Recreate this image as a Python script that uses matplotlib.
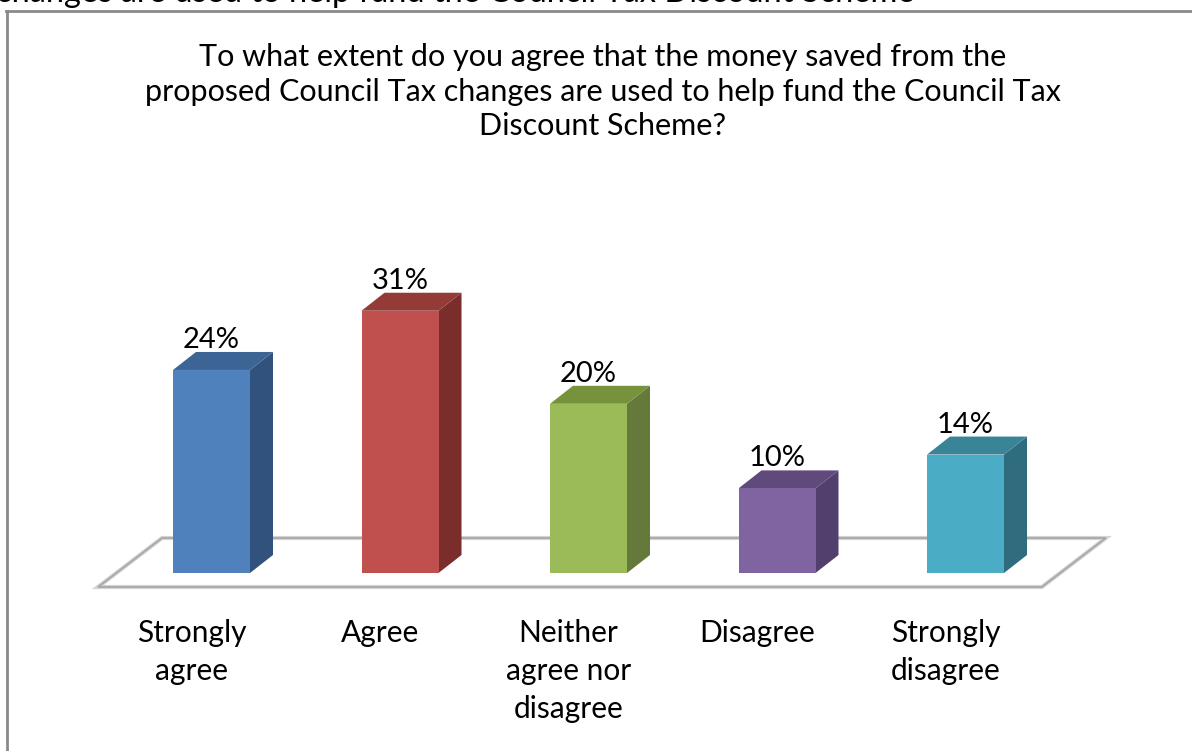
import matplotlib.pyplot as plt
from matplotlib.patches import Polygon

# survey responses
categories = ['Strongly\nagree', 'Agree', 'Neither\nagree nor\ndisagree', 'Disagree', 'Strongly\ndisagree']
values = [24, 31, 20, 10, 14]
labels = ['24%', '31%', '20%', '10%', '14%']

title_lines = ['To what extent do you agree that the money saved from the',
               'proposed Council Tax changes are used to help fund the Council Tax',
               'Discount Scheme?']

# front / side / top shades for each bar
front_cols = ['#4F81BD', '#C0504D', '#9BBB59', '#8064A2', '#4BACC6']
side_cols = ['#31527C', '#7B2D2B', '#65793A', '#533F6E', '#2F6C7E']
top_cols = ['#3C6494', '#943B38', '#76923C', '#604A7B', '#3A8498']

plt.rcParams['font.family'] = ['Lato', 'DejaVu Sans']

W, H = 1192, 751
fig = plt.figure(figsize=(W / 100, H / 100), dpi=100)
ax = fig.add_axes([0, 0, 1, 1])

# data units: one category per unit on x, percent on y
px_x = 188.5          # pixels per category
px_y = 8.46           # pixels per percent
x0, y0 = 211.5, 573   # pixel position of first bar centre / baseline
ax.set_xlim(-x0 / px_x, (W - x0) / px_x)
ax.set_ylim(-(H - y0) / px_y, y0 / px_y)
ax.axis('off')

dx = 23 / px_x        # depth offset of the 3d bars
dy = 18 / px_y
hw = 38.5 / px_x      # half width of a bar

# floor outline
fx0, fx1 = -0.602, 4.405
fdx, fdy = 64 / px_x, 49 / px_y
fy = -14 / px_y
floor = [(fx0, fy), (fx1, fy), (fx1 + fdx, fy + fdy), (fx0 + fdx, fy + fdy)]
ax.add_patch(Polygon(floor, closed=True, fill=False, edgecolor='#d4d4d4', lw=3, zorder=1))
ax.add_patch(Polygon(floor, closed=True, fill=False, edgecolor='#a8a8a8', lw=1.3, zorder=1))

for i, v in enumerate(values):
    l, r = i - hw, i + hw
    front = [(l, 0), (r, 0), (r, v), (l, v)]
    side = [(r, 0), (r + dx, dy), (r + dx, v + dy), (r, v)]
    top = [(l, v), (r, v), (r + dx, v + dy), (l + dx, v + dy)]
    ax.add_patch(Polygon(side, closed=True, facecolor=side_cols[i], edgecolor='none', zorder=3))
    ax.add_patch(Polygon(top, closed=True, facecolor=top_cols[i], edgecolor='none', zorder=3))
    ax.add_patch(Polygon(front, closed=True, facecolor=front_cols[i], edgecolor='none', zorder=4))
    ax.text(i, v + dy + 4 / px_y, labels[i], ha='center', va='baseline',
            fontsize=21, color='black', zorder=5)
    # category label, one line at a time
    for k, line in enumerate(categories[i].split('\n')):
        ax.text(i - 20 / px_x, -(69 + 38 * k) / px_y, line, ha='center', va='baseline',
                fontsize=21.5, color='black', zorder=5)

# chart title
for k, line in enumerate(title_lines):
    fig.text(603 / W, 1 - (66 + 34.5 * k) / H, line, ha='center', va='baseline',
             fontsize=22, color='black')

# chart border (left and top edges)
fig.add_artist(plt.Line2D([6.5 / W, 6.5 / W], [0, 1 - 11 / H], color='#8a8a8a', lw=2))
fig.add_artist(plt.Line2D([5.5 / W, 1], [1 - 11 / H, 1 - 11 / H], color='#8a8a8a', lw=2))

# running text from the page above the chart
fig.text(-4 / W, 1 - 1.5 / H, 'changes are used to help fund the Council Tax Discount Scheme',
         ha='left', va='baseline', fontsize=23.5, color='black')

fig.savefig('out.png', dpi=100, facecolor='white')
